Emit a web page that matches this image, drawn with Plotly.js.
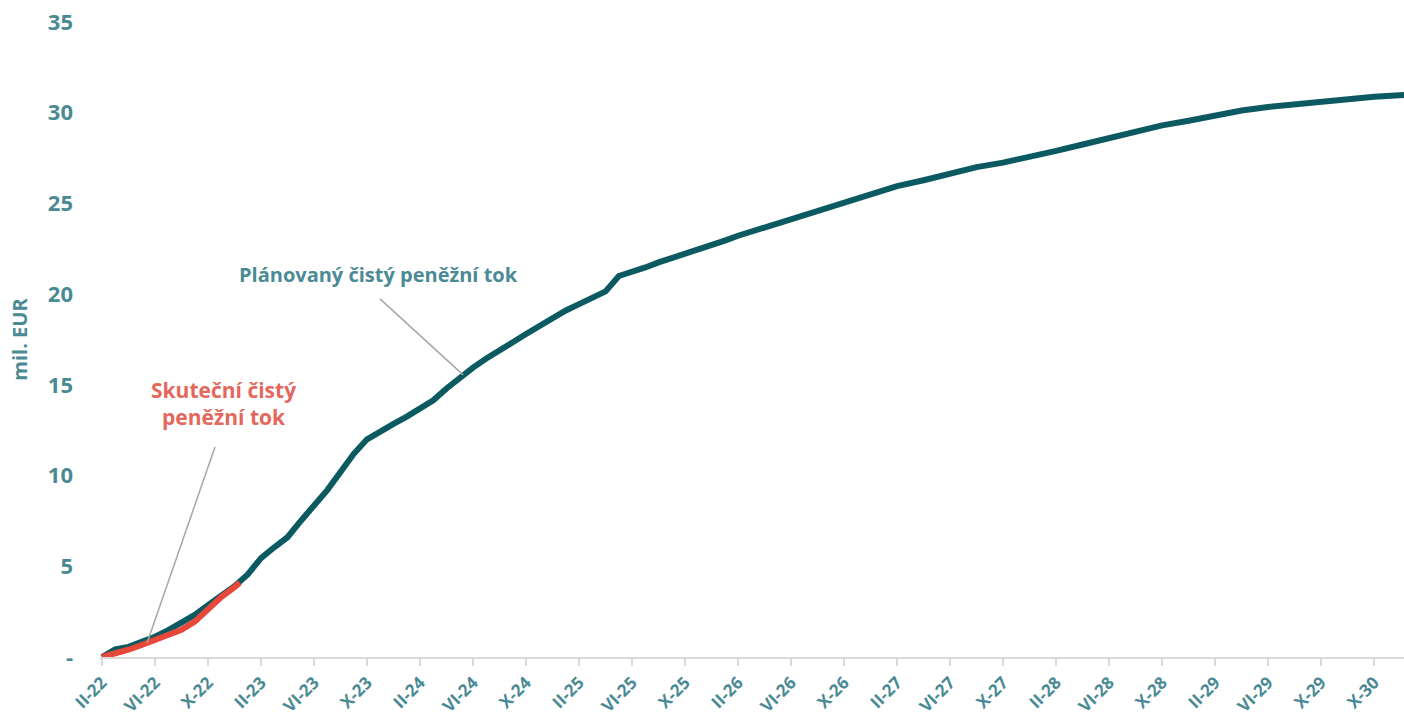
<!DOCTYPE html>
<html>
<head>
<meta charset="utf-8">
<script src="https://cdn.plot.ly/plotly-3.0.1.min.js"></script>
<style>html,body{margin:0;padding:0;background:#fff;}#chart{width:1404px;height:717px;}</style>
</head>
<body>
<div id="chart"></div>
<script>
// months since II-22
const plannedMonths = [0,1,2,3,4,5,6,7,8,9,10,11,12,13,14,15,16,17,18,19,20,21,22,23,24,25,26,27,28,29,30,31,32,33,34,35,36,37,38,39,40,41,42,43,44,45,46,47,48,50,52,54,56,58,60,62,64,66,68,70,72,74,76,78,80,82,84,86,88,90,92,94,96,98.3];
const plannedValues = [0,0.42,0.56,0.8,1.12,1.48,1.88,2.32,2.85,3.35,3.9,4.55,5.45,6.05,6.6,7.5,8.35,9.2,10.2,11.2,12.0,12.45,12.85,13.25,13.7,14.15,14.8,15.4,15.95,16.45,16.95,17.35,17.8,18.25,18.65,19.1,19.45,19.8,20.15,21.0,21.2,21.47,21.75,21.98,22.2,22.42,22.68,22.95,23.22,23.68,24.12,24.55,25.0,25.52,25.95,26.28,26.62,27.0,27.25,27.55,27.9,28.25,28.62,28.98,29.3,29.56,29.87,30.12,30.32,30.48,30.62,30.76,30.88,30.98];
const actualMonths = [0,1,2,3,4,5,6,7,8,9,10,10.4];
const actualValues = [0,0.18,0.4,0.66,0.95,1.18,1.5,1.95,2.65,3.3,3.85,4.1];

const tickMonths = [0,4,8,12,16,20,24,28,32,36,40,44,48,52,56,60,64,68,72,76,80,84,88,92,96];
const tickLabels = ["II-22","VI-22","X-22","II-23","VI-23","X-23","II-24","VI-24","X-24","II-25","VI-25","X-25","II-26","VI-26","X-26","II-27","VI-27","X-27","II-28","VI-28","X-28","II-29","VI-29","X-29","X-30"];
const yTickVals = [0,5,10,15,20,25,30,35];
const yTickText = ["-","5","10","15","20","25","30","35"];

const seriesNames = ["Plánovaný čistý peněžní tok","Skuteční čistý<br>peněžní tok"];

const teal = "#4a8a94";
const dark = "#0b5a62";
const red = "#e8483a";
const salmon = "#e4675c";
const fontFam = "'Open Sans', Lato, sans-serif";
const b = s => "<b>" + s + "</b>";

const traces = [
  {x: plannedMonths, y: plannedValues, type: "scatter", mode: "lines", name: "planned",
   line: {color: dark, width: 6, shape: "linear"}, hoverinfo: "skip"},
  {x: actualMonths, y: actualValues, type: "scatter", mode: "lines", name: "actual",
   line: {color: red, width: 6, shape: "linear"}, hoverinfo: "skip"}
];

const layout = {
  width: 1404, height: 717,
  margin: {l: 100, r: 0, t: 22, b: 60},
  paper_bgcolor: "#fff", plot_bgcolor: "#fff",
  showlegend: false,
  font: {family: fontFam, color: teal},
  xaxis: {
    range: [-0.15, 98.25], showgrid: false, zeroline: false,
    showline: true, linecolor: "#d9d9d9", linewidth: 2,
    ticks: "outside", ticklen: 7, tickcolor: "#d9d9d9", tickwidth: 2,
    tickvals: tickMonths, ticktext: tickLabels.map(b), tickangle: -45,
    tickfont: {family: fontFam, size: 17, color: teal}
  },
  yaxis: {
    range: [0, 35], showgrid: false, zeroline: false, showline: false,
    tickvals: yTickVals, ticktext: yTickText.map(b), ticks: "",
    ticklabelstandoff: 26,
    tickfont: {family: fontFam, size: 22, color: teal},
    title: {text: b("mil. EUR"), font: {family: fontFam, size: 20, color: teal}, standoff: 14}
  },
  shapes: [
    {type: "line", xref: "x", yref: "y", x0: 20.98, y0: 19.74, x1: 27.25, y1: 15.55,
     line: {color: "#a6a6a6", width: 1.5}},
    {type: "line", xref: "x", yref: "y", x0: 8.53, y0: 11.58, x1: 3.4, y1: 0.77,
     line: {color: "#a6a6a6", width: 1.5}}
  ],
  annotations: [
    {x: 20.9, y: 21.1, xref: "x", yref: "y", text: b(seriesNames[0]), showarrow: false,
     font: {family: fontFam, size: 20, color: teal}},
    {x: 9.2, y: 14.0, xref: "x", yref: "y", text: b(seriesNames[1]), showarrow: false, align: "center",
     font: {family: fontFam, size: 21, color: salmon}}
  ]
};

Plotly.newPlot("chart", traces, layout, {staticPlot: true, displayModeBar: false});
</script>
</body>
</html>
